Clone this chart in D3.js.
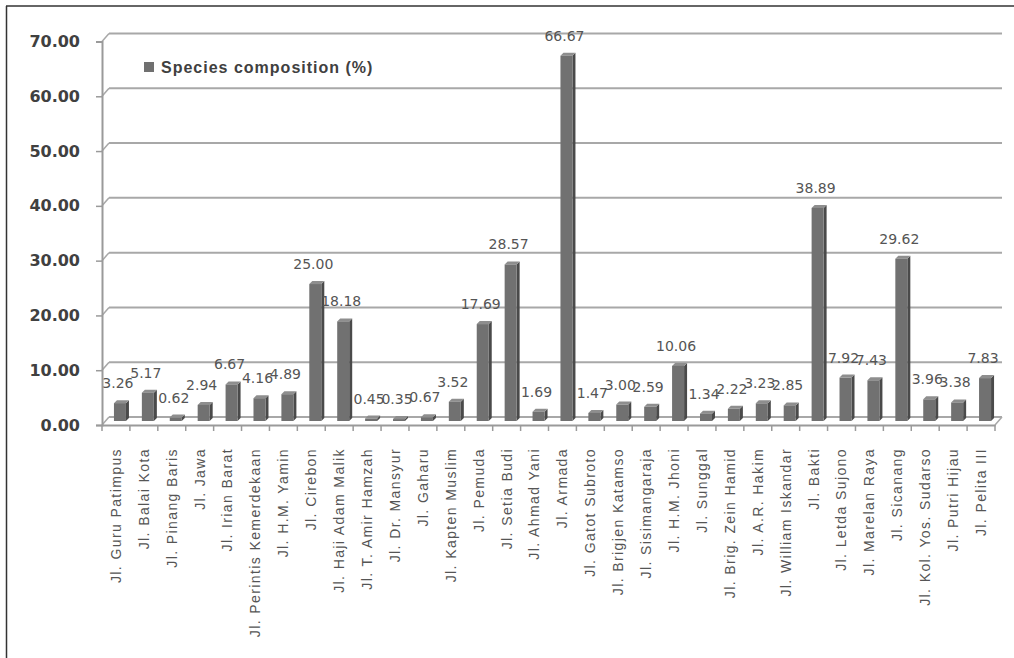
<!DOCTYPE html>
<html>
<head>
<meta charset="utf-8">
<script src="https://cdn.jsdelivr.net/npm/d3@7"></script>
<style>
  html, body { margin: 0; padding: 0; background: #fff; }
  svg { display: block; }
</style>
</head>
<body>
<svg id="chart" width="1014" height="658"></svg>
<script>
const categories = [
  "Jl. Guru Patimpus", "Jl. Balai Kota", "Jl. Pinang Baris", "Jl. Jawa", "Jl. Irian Barat",
  "Jl. Perintis Kemerdekaan", "Jl. H.M. Yamin", "Jl. Cirebon", "Jl. Haji Adam Malik",
  "Jl. T. Amir Hamzah", "Jl. Dr. Mansyur", "Jl. Gaharu", "Jl. Kapten Muslim", "Jl. Pemuda",
  "Jl. Setia Budi", "Jl. Ahmad Yani", "Jl. Armada", "Jl. Gatot Subroto", "Jl. Brigjen Katamso",
  "Jl. Sisimangaraja", "Jl. H.M. Jhoni", "Jl. Sunggal", "Jl. Brig. Zein  Hamid", "Jl. A.R. Hakim",
  "Jl. William Iskandar", "Jl. Bakti", "Jl. Letda Sujono", "Jl. Marelan Raya", "Jl. Sicanang",
  "Jl. Kol. Yos. Sudarso", "Jl. Putri Hijau", "Jl. Pelita III"
];
const values = [
  3.26, 5.17, 0.62, 2.94, 6.67, 4.16, 4.89, 25.00, 18.18, 0.45, 0.35, 0.67, 3.52, 17.69,
  28.57, 1.69, 66.67, 1.47, 3.00, 2.59, 10.06, 1.34, 2.22, 3.23, 2.85, 38.89, 7.92, 7.43,
  29.62, 3.96, 3.38, 7.83
];
const yTicks = [0, 10, 20, 30, 40, 50, 60, 70];
const seriesName = "Species composition (%)";

const svg = d3.select("#chart");

// layout
const x0 = 102, x1 = 995, yBase = 425, yTop = 41.5;
const depthX = 7, depthY = 8;

const x = d3.scaleBand().domain(categories).range([x0, x1]).paddingInner(0).paddingOuter(0);
const y = d3.scaleLinear().domain([0, 70]).range([yBase, yTop]);

// outer frame (top + left)
svg.append("line").attr("x1", 6).attr("y1", 6).attr("x2", 1014).attr("y2", 6)
  .attr("stroke", "#333").attr("stroke-width", 1.5);
svg.append("line").attr("x1", 6.5).attr("y1", 6).attr("x2", 6.5).attr("y2", 658)
  .attr("stroke", "#333").attr("stroke-width", 1.5);

// back-wall gridlines + left wall diagonals
const grid = svg.append("g");
yTicks.forEach(t => {
  const yf = y(t);
  grid.append("line")
    .attr("x1", x0 + depthX).attr("y1", yf - depthY)
    .attr("x2", x1 + depthX).attr("y2", yf - depthY)
    .attr("stroke", "#a8a8a8").attr("stroke-width", 2);
  grid.append("line")
    .attr("x1", x0).attr("y1", yf)
    .attr("x2", x0 + depthX).attr("y2", yf - depthY)
    .attr("stroke", "#a8a8a8").attr("stroke-width", 1.5);
});
// floor right edge
grid.append("line")
  .attr("x1", x1).attr("y1", yBase).attr("x2", x1 + depthX).attr("y2", yBase - depthY)
  .attr("stroke", "#a8a8a8").attr("stroke-width", 1.5);

// bars (3D look)
const barOff = 4;       // half depth shift
const barW = 12;
const sideW = 3, sideH = 3;
const bars = svg.append("g");
categories.forEach((c, i) => {
  const v = values[i];
  const cx = x(c) + x.bandwidth() / 2 + barOff;
  const bx = cx - barW / 2;
  const b0 = y(0) - barOff;
  const bt = y(v) - barOff;
  bars.append("path")
    .attr("d", `M${bx + barW},${bt} L${bx + barW + sideW},${bt - sideH} L${bx + barW + sideW},${b0 - sideH} L${bx + barW},${b0} Z`)
    .attr("fill", "#4a4a4a");
  bars.append("path")
    .attr("d", `M${bx},${bt} L${bx + sideW},${bt - sideH} L${bx + barW + sideW},${bt - sideH} L${bx + barW},${bt} Z`)
    .attr("fill", "#8e8e8e");
  bars.append("rect")
    .attr("x", bx).attr("y", bt).attr("width", barW).attr("height", Math.max(0.5, b0 - bt))
    .attr("fill", "#717171");
});

// x axis (front floor edge)
const xAxis = d3.axisBottom(x).tickSize(0).tickPadding(0);
const gx = svg.append("g").attr("transform", `translate(0,${yBase})`).call(xAxis);
gx.select(".domain").attr("stroke", "#9a9a9a").attr("stroke-width", 2);
gx.selectAll(".tick text")
  .attr("transform", "rotate(-90)")
  .attr("text-anchor", "end")
  .attr("x", -23).attr("y", 0).attr("dy", "0.35em")
  .attr("fill", "#555")
  .style("font-family", "'Liberation Sans', Arial, sans-serif")
  .style("font-size", "14px")
  .style("letter-spacing", "1.4px");
const xb = d3.scaleLinear().domain([0, categories.length]).range([x0, x1]);
svg.append("g").selectAll("line").data(d3.range(categories.length + 1)).join("line")
  .attr("x1", d => xb(d)).attr("x2", d => xb(d))
  .attr("y1", yBase).attr("y2", yBase + 6)
  .attr("stroke", "#9a9a9a").attr("stroke-width", 1.5);

// y axis
const yAxis = d3.axisLeft(y).tickValues(yTicks).tickFormat(d3.format(".2f")).tickSize(6).tickPadding(16);
const gy = svg.append("g").attr("transform", `translate(${x0},0)`).call(yAxis);
gy.select(".domain").attr("stroke", "#9a9a9a").attr("stroke-width", 2);
gy.selectAll(".tick line").attr("stroke", "#9a9a9a").attr("stroke-width", 1.5);
gy.selectAll(".tick text")
  .attr("fill", "#404040")
  .style("font-family", "'DejaVu Sans', sans-serif")
  .style("font-weight", "bold")
  .style("font-size", "16px");

// data labels
svg.append("g").selectAll("text").data(categories).join("text")
  .attr("x", (c) => x(c) + x.bandwidth() / 2 + 2)
  .attr("y", (c, i) => y(values[i]) - barOff - 15)
  .attr("text-anchor", "middle")
  .attr("fill", "#555")
  .style("font-family", "'DejaVu Sans', sans-serif")
  .style("font-size", "14px")
  .text((c, i) => values[i].toFixed(2));

// legend
svg.append("rect").attr("x", 144).attr("y", 62).attr("width", 10).attr("height", 10).attr("fill", "#707070");
svg.append("text").attr("x", 161).attr("y", 67).attr("dy", "0.35em")
  .attr("fill", "#404040")
  .style("font-family", "'Liberation Sans', Arial, sans-serif")
  .style("font-weight", "bold")
  .style("font-size", "16px")
  .style("letter-spacing", "1px")
  .text(seriesName);
</script>
</body>
</html>
